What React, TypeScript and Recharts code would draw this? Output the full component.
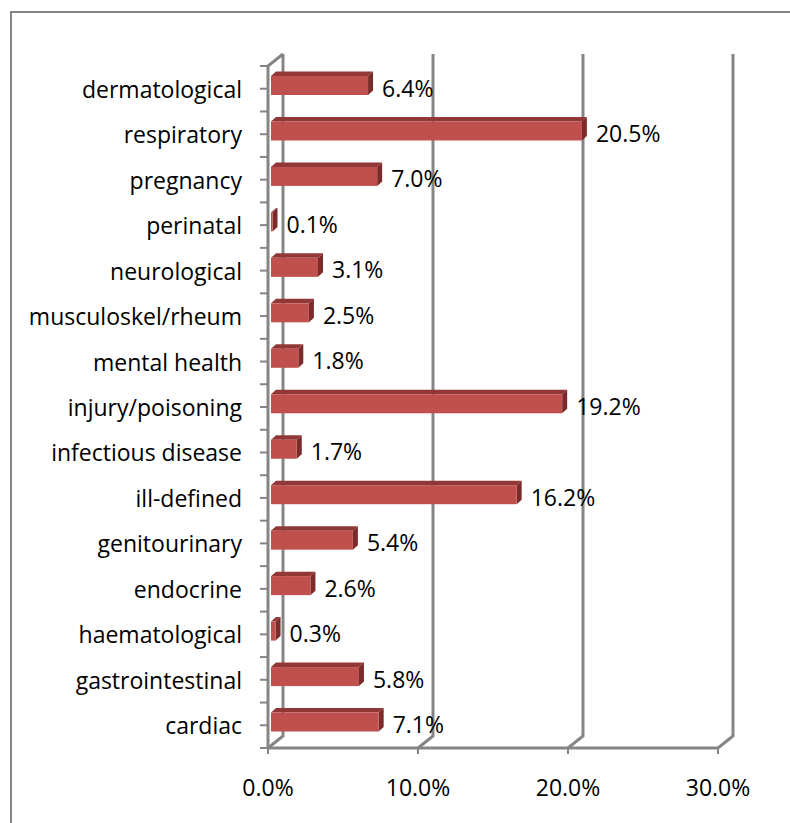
import { Bar, BarChart, CartesianGrid, LabelList, XAxis, YAxis } from "recharts";

const categories = [
  "dermatological",
  "respiratory",
  "pregnancy",
  "perinatal",
  "neurological",
  "musculoskel/rheum",
  "mental health",
  "injury/poisoning",
  "infectious disease",
  "ill-defined",
  "genitourinary",
  "endocrine",
  "haematological",
  "gastrointestinal",
  "cardiac",
];
const shares = [6.4, 20.5, 7.0, 0.1, 3.1, 2.5, 1.8, 19.2, 1.7, 16.2, 5.4, 2.6, 0.3, 5.8, 7.1];
const xTicks = [0, 10, 20, 30];

const data = categories.map((category, i) => ({ category, share: shares[i] }));

const FONT = "'Open Sans', sans-serif";
const FONT_SIZE = 23;
const GREY = "#858585";
// depth of the back wall and of the bars
const WALL_DX = 15;
const WALL_DY = 12;
const BAR_D = 5;

const Bar3D = (props: any) => {
  const { x, y, width, height } = props;
  const fx = x + 3;
  const fw = Math.max(width * 1.011, 1);
  const fy = y - 3;
  const fh = height;
  return (
    <g>
      <polygon
        points={`${fx},${fy} ${fx + BAR_D},${fy - 4.5} ${fx + fw + BAR_D},${fy - 4.5} ${fx + fw},${fy}`}
        fill="#913836"
      />
      <polygon
        points={`${fx + fw},${fy} ${fx + fw + BAR_D},${fy - 4.5} ${fx + fw + BAR_D},${fy + fh - 4.5} ${fx + fw},${fy + fh}`}
        fill="#7b2c2a"
      />
      <rect x={fx} y={fy} width={fw} height={fh} fill="#c0504d" />
    </g>
  );
};

const ValueLabel = (props: any) => {
  const vb = props.viewBox ?? props;
  const x = vb.x ?? props.x;
  const y = vb.y ?? props.y;
  const width = vb.width ?? props.width;
  const height = vb.height ?? props.height;
  const tx = x + 3 + Math.max(width * 1.011, 1) + BAR_D + 9;
  return (
    <text
      x={tx}
      y={y + height / 2 - 1}
      dominantBaseline="central"
      fontFamily={FONT}
      fontSize={FONT_SIZE}
      fill="#000"
    >
      {Number(props.value).toFixed(1)}%
    </text>
  );
};

const WallLine = (p: any) => {
  const X = p.x1;
  const top = Math.min(p.y1, p.y2);
  const bot = Math.max(p.y1, p.y2);
  const bx = X + WALL_DX;
  const first = p.index === 0;
  return (
    <g key={`wall-${p.index}`} stroke={GREY} strokeWidth={3} fill="none">
      <polyline points={`${bx},${top - WALL_DY} ${bx},${bot - WALL_DY} ${X},${bot}`} />
      {first && (
        <polyline points={`${bx},${top - WALL_DY} ${X},${top}  ${X},${bot}`} />
      )}
    </g>
  );
};

const CategoryTick = (props: any) => {
  const { payload } = props;
  const cy = payload.coordinate;
  const half = payload.offset || 22.7;
  const ax = 268;
  return (
    <g>
      <text
        x={242}
        y={cy}
        textAnchor="end"
        dominantBaseline="central"
        fontFamily={FONT}
        fontSize={FONT_SIZE}
        fill="#000"
      >
        {payload.value}
      </text>
      <line x1={ax - 8} x2={ax} y1={cy} y2={cy} stroke={GREY} strokeWidth={2} />
      <line x1={ax - 8} x2={ax} y1={cy + half} y2={cy + half} stroke={GREY} strokeWidth={2} />
      {props.index === 0 && (
        <line x1={ax - 8} x2={ax} y1={cy - half} y2={cy - half} stroke={GREY} strokeWidth={2} />
      )}
    </g>
  );
};

const PercentTick = (props: any) => {
  const { x, payload } = props;
  return (
    <text
      x={x}
      y={787}
      textAnchor="middle"
      dominantBaseline="central"
      fontFamily={FONT}
      fontSize={FONT_SIZE}
      fill="#000"
    >
      {payload.value.toFixed(1)}%
    </text>
  );
};

export default function App() {
  return (
    <div
      style={{
        position: "absolute",
        left: 0,
        top: 0,
        width: 790,
        height: 823,
        overflow: "hidden",
        background: "#fff",
      }}
    >
      <div
        style={{
          position: "absolute",
          left: 10,
          top: 11,
          width: 820,
          height: 840,
          border: `2px solid ${GREY}`,
        }}
      />
      <div style={{ position: "absolute", left: 0, top: 0 }}>
        <BarChart
          width={790}
          height={823}
          data={data}
          layout="vertical"
          margin={{ top: 66, right: 72, left: 0, bottom: 0 }}
          barSize={19}
        >
          <CartesianGrid horizontal={false} vertical={WallLine} />
          <XAxis
            type="number"
            domain={[0, 30]}
            ticks={xTicks}
            interval={0}
            height={75}
            axisLine={{ stroke: GREY, strokeWidth: 3 }}
            tickLine={{ stroke: GREY, strokeWidth: 2 }}
            tickSize={6}
            tick={PercentTick}
          />
          <YAxis
            type="category"
            dataKey="category"
            width={268}
            interval={0}
            axisLine={false}
            tickLine={false}
            tick={CategoryTick}
          />
          <Bar dataKey="share" shape={Bar3D} isAnimationActive={false}>
            <LabelList dataKey="share" content={ValueLabel} />
          </Bar>
        </BarChart>
      </div>
    </div>
  );
}
